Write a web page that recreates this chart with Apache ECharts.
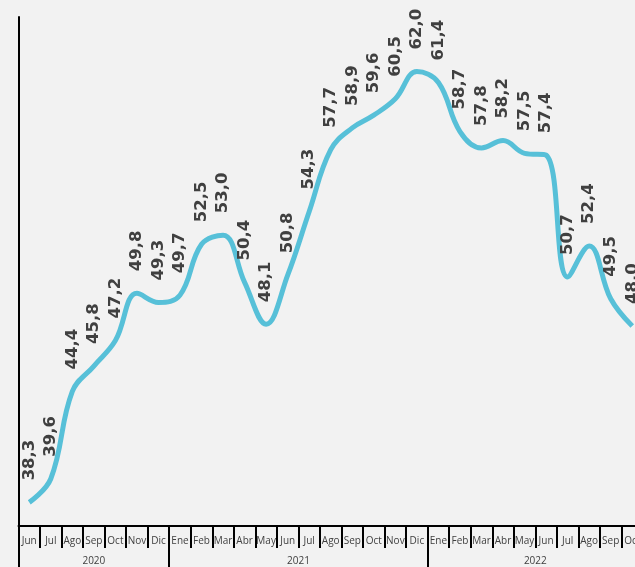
<!DOCTYPE html>
<html>
<head>
<meta charset="utf-8">
<script src="https://cdn.jsdelivr.net/npm/echarts@6/dist/echarts.min.js"></script>
<style>
html,body{margin:0;padding:0;background:#F2F2F2;overflow:hidden;width:635px;height:567px;}
#chart{width:660px;height:567px;}
</style>
</head>
<body>
<div id="chart"></div>
<script>
var months = ['Jun','Jul','Ago','Sep','Oct','Nov','Dic',
  'Ene','Feb','Mar','Abr','May','Jun','Jul','Ago','Sep','Oct','Nov','Dic',
  'Ene','Feb','Mar','Abr','May','Jun','Jul','Ago','Sep','Oct'];
var values = [38.3,39.6,44.4,45.8,47.2,49.8,49.3,
  49.7,52.5,53.0,50.4,48.1,50.8,54.3,57.7,58.9,59.6,60.5,62.0,
  61.4,58.7,57.8,58.2,57.5,57.4,50.7,52.4,49.5,48.0];
var years = ['2020','2021','2022'];
var yearCounts = [7,12,10];

// build half-step points for the year axis (boundaries and centres)
var halfPts = [];
var tickIdx = {0:true};
var labelIdx = {};
var acc = 0;
for (var y = 0; y < years.length; y++) {
  var mid = acc + yearCounts[y] / 2;
  labelIdx[Math.round(mid * 2)] = years[y];
  acc += yearCounts[y];
  tickIdx[acc * 2] = true;
}
for (var i = 0; i <= acc * 2; i++) {
  halfPts.push(labelIdx[i] || ('p' + i));
}

var chart = echarts.init(document.getElementById('chart'));
chart.setOption({
  backgroundColor: '#F2F2F2',
  animation: false,
  grid: {left: 18.5, width: 624.5, top: 17, bottom: 41, containLabel: false, outerBoundsMode: 'none'},
  xAxis: [{
    type: 'category',
    data: months,
    boundaryGap: true,
    position: 'bottom',
    axisLine: {show: true, lineStyle: {color: '#000', width: 2}},
    axisTick: {show: true, interval: 0, length: 22, lineStyle: {color: '#000', width: 2}},
    axisLabel: {interval: 0, margin: 10, fontSize: 10, color: '#404040', fontFamily: 'Open Sans'},
    splitLine: {show: false}
  }, {
    type: 'category',
    data: halfPts,
    boundaryGap: false,
    position: 'bottom',
    axisLine: {show: false},
    axisTick: {show: true, length: 42, lineStyle: {color: '#000', width: 2},
      interval: function (idx) { return !!tickIdx[idx]; }},
    axisLabel: {margin: 30, fontSize: 10, color: '#404040', fontFamily: 'Open Sans',
      interval: function (idx) { return !!labelIdx[idx]; },
      formatter: function (v) { return v.charAt(0) === 'p' ? '' : v; }},
    splitLine: {show: false}
  }],
  yAxis: {
    type: 'value',
    min: 37,
    max: 65,
    axisLine: {show: true, lineStyle: {color: '#000', width: 2}},
    axisTick: {show: false},
    axisLabel: {show: false},
    splitLine: {show: false}
  },
  series: [{
    type: 'line',
    data: values,
    xAxisIndex: 0,
    smooth: 0.4,
    symbol: 'circle',
    symbolSize: 0,
    showSymbol: true,
    lineStyle: {color: '#57C0D8', width: 5},
    itemStyle: {color: '#57C0D8'},
    clip: false,
    label: {
      show: true,
      position: 'top',
      distance: 22,
      rotate: 90,
      align: 'left',
      verticalAlign: 'middle',
      fontFamily: 'DejaVu Sans',
      fontWeight: 'bold',
      fontSize: 16.5,
      color: '#404040',
      formatter: function (p) { return p.value.toFixed(1).replace('.', ','); }
    }
  }]
});
</script>
</body>
</html>
